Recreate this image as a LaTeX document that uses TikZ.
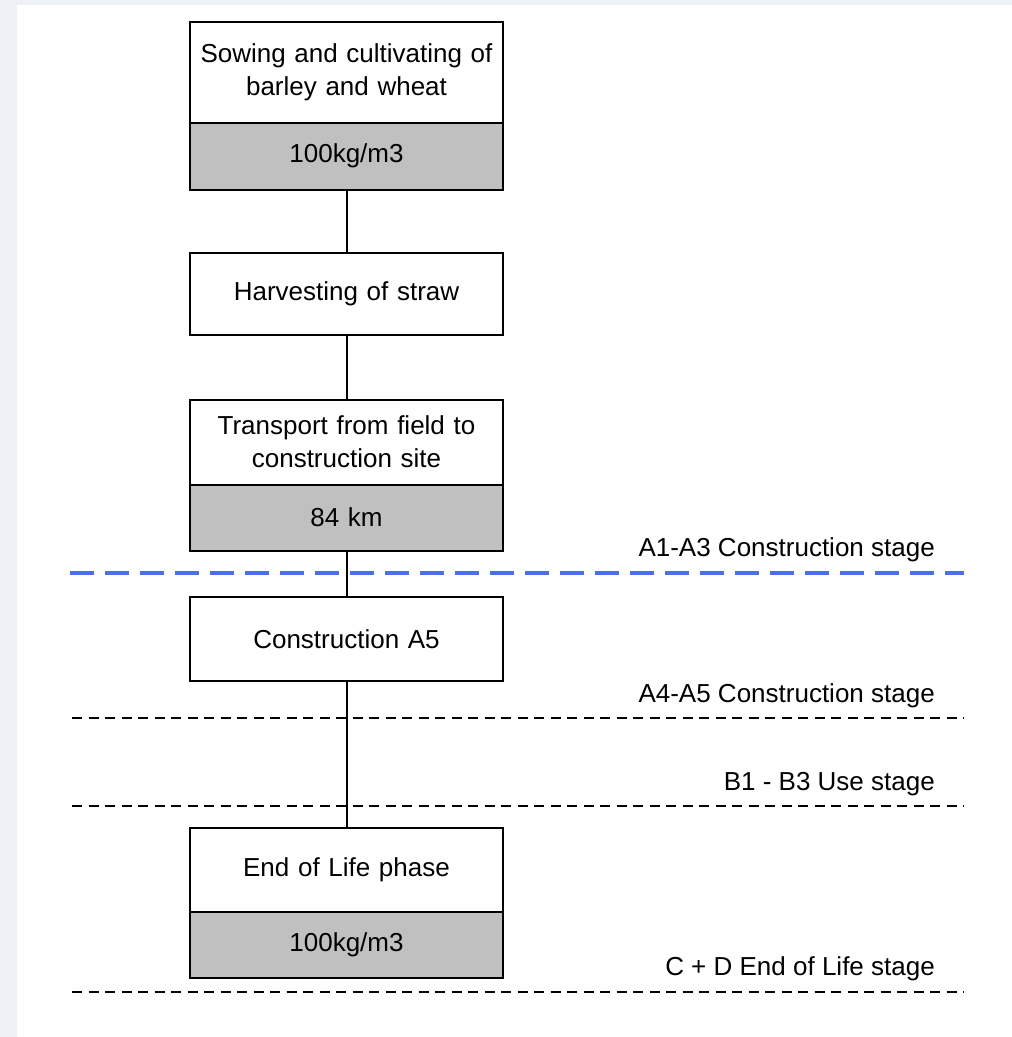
\documentclass[tikz,border=0pt]{standalone}
\usepackage{fontspec}
\setmainfont{Liberation Sans}
\usetikzlibrary{positioning}

\definecolor{pagegrey}{HTML}{EEF2F7}
\definecolor{boxgrey}{HTML}{C0C0C0}
\definecolor{stageblue}{HTML}{4A70E6}

\tikzset{
    stepbox/.style = {draw, line width = 2pt, fill = white, text width = 300pt,
        minimum width = 313pt, inner sep = 0pt, align = center},
    valbox/.style = {stepbox, fill = boxgrey},
    stageline/.style = {line width = 1.5pt, dash pattern = on 10pt off 6.5pt},
    stagetext/.style = {anchor = east, inner sep = 0pt}
}

\begin{document}
\begin{tikzpicture}[x = 1pt, y = -1pt, font = \fontsize{26}{33}\selectfont]
        \fill [pagegrey] (0,0) rectangle (1012,1037);
        \fill [white] (17,5) rectangle (1012,1037);
        \useasboundingbox (0,0) rectangle (1012,1037);

        % stage borders
        \coordinate (a3l) at (70,573);
        \coordinate (a3r) at (964,573);
        \coordinate (a5l) at (72,718);
        \coordinate (a5r) at (964,718);
        \coordinate (b3l) at (72,806);
        \coordinate (b3r) at (964,806);
        \coordinate (cdl) at (72,992);
        \coordinate (cdr) at (964,992);

        \draw [stageblue, line width = 4pt, dash pattern = on 24pt off 11pt]
        (a3l) -- (a3r);
        \draw [stageline] (a5l) -- (a5r);
        \draw [stageline] (b3l) -- (b3r);
        \draw [stageline] (cdl) -- (cdr);

        \node [stagetext] (a3txt) at (935,550) {A1-A3 Construction stage};
        \node [stagetext] (a5txt) at (935,696) {A4-A5 Construction stage};
        \node [stagetext] (b3txt) at (935,784) {B1 - B3 Use stage};
        \node [stagetext] (cdtxt) at (935,969) {C + D End of Life stage};

        % process steps
        \node [stepbox, minimum height = 101pt] (sow) at (346.5,72)
        {Sowing and cultivating of\\barley and wheat};
        \node [valbox, minimum height = 67pt, below = -2pt of sow] (sowval) {100kg/m3};

        \node [stepbox, minimum height = 82pt] (harv) at (346.5,294) {Harvesting of straw};

        \node [stepbox, minimum height = 85pt] (trans) at (346.5,442)
        {Transport from field to\\construction site};
        \node [valbox, minimum height = 66pt, below = -2pt of trans] (transval) {84 km};

        \node [stepbox, minimum height = 84pt] (constr) at (346.5,639) {Construction A5};

        \node [stepbox, minimum height = 84pt] (eol) at (346.5,869.5) {End of Life phase};
        \node [valbox, minimum height = 66pt, below = -2pt of eol] (eolval) {100kg/m3};

        \draw [line width = 2pt] (sowval) -- (harv);
        \draw [line width = 2pt] (harv) -- (trans);
        \draw [line width = 2pt] (transval) -- (constr);
        \draw [line width = 2pt] (constr) -- (eol);
    \end{tikzpicture}
\end{document}
